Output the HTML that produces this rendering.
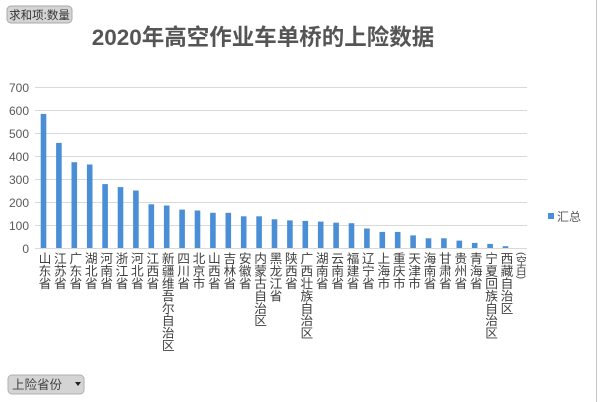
<!DOCTYPE html>
<html><head><meta charset="utf-8"><style>
body{margin:0;width:600px;height:402px;overflow:hidden;background:#fff;font-family:"Liberation Sans","Noto Sans CJK SC",sans-serif;position:relative;}
.l{position:absolute;top:252px;width:14px;writing-mode:vertical-rl;font-size:12.7px;line-height:14px;color:#404040;white-space:nowrap;letter-spacing:-0.3px;}
svg{position:absolute;left:0;top:0;}
</style></head><body>
<svg width="600" height="402" xmlns="http://www.w3.org/2000/svg" font-family="Liberation Sans, Noto Sans CJK SC, sans-serif">
<rect x="596" y="0" width="1" height="402" fill="#c8c8c8"/>
<rect x="7" y="6" width="65" height="17" rx="4" fill="#d4d4d4" stroke="#aaa"/>
<text x="39.5" y="19" font-size="11.5" fill="#333" text-anchor="middle">求和项:数量</text>
<rect x="8" y="375" width="76" height="19" rx="4" fill="#d4d4d4" stroke="#b0b0b0"/>
<text x="12" y="389" font-size="12.5" fill="#444">上险省份</text>
<path d="M75 382 l6 0 l-3 4 z" fill="#222"/>
<text x="263" y="45" font-size="22.5" font-weight="bold" fill="#555" text-anchor="middle">2020年高空作业车单桥的上险数据</text>
<g stroke="#d9d9d9" stroke-width="1">
<line x1="35" x2="527" y1="87.5" y2="87.5"/><line x1="35" x2="527" y1="110.5" y2="110.5"/>
<line x1="35" x2="527" y1="133.5" y2="133.5"/><line x1="35" x2="527" y1="156.5" y2="156.5"/>
<line x1="35" x2="527" y1="179.5" y2="179.5"/><line x1="35" x2="527" y1="202.5" y2="202.5"/>
<line x1="35" x2="527" y1="225.5" y2="225.5"/><line x1="35" x2="527" y1="248.5" y2="248.5"/>
</g>
<g font-size="12" fill="#595959" text-anchor="end">
<text x="29" y="92">700</text><text x="29" y="115">600</text><text x="29" y="138">500</text>
<text x="29" y="161">400</text><text x="29" y="184">300</text><text x="29" y="207">200</text>
<text x="29" y="230">100</text><text x="29" y="253">0</text>
</g>
<g fill="#4a8fd6">
<rect x="40.7" y="113.9" width="5.6" height="134.1"/>
<rect x="56.1" y="142.9" width="5.6" height="105.1"/>
<rect x="71.5" y="162.2" width="5.6" height="85.8"/>
<rect x="86.9" y="164.5" width="5.6" height="83.5"/>
<rect x="102.3" y="184.1" width="5.6" height="63.9"/>
<rect x="117.7" y="187.1" width="5.6" height="60.9"/>
<rect x="133.1" y="190.5" width="5.6" height="57.5"/>
<rect x="148.5" y="204.3" width="5.6" height="43.7"/>
<rect x="163.9" y="205.5" width="5.6" height="42.5"/>
<rect x="179.3" y="209.6" width="5.6" height="38.4"/>
<rect x="194.7" y="210.5" width="5.6" height="37.5"/>
<rect x="210.1" y="212.8" width="5.6" height="35.2"/>
<rect x="225.5" y="212.8" width="5.6" height="35.2"/>
<rect x="240.9" y="216.3" width="5.6" height="31.7"/>
<rect x="256.3" y="216.3" width="5.6" height="31.7"/>
<rect x="271.7" y="219.3" width="5.6" height="28.7"/>
<rect x="287.1" y="220.4" width="5.6" height="27.6"/>
<rect x="302.5" y="220.9" width="5.6" height="27.1"/>
<rect x="317.9" y="221.6" width="5.6" height="26.4"/>
<rect x="333.3" y="222.7" width="5.6" height="25.3"/>
<rect x="348.7" y="223.2" width="5.6" height="24.8"/>
<rect x="364.1" y="228.5" width="5.6" height="19.5"/>
<rect x="379.5" y="231.9" width="5.6" height="16.1"/>
<rect x="394.9" y="231.9" width="5.6" height="16.1"/>
<rect x="410.3" y="235.4" width="5.6" height="12.6"/>
<rect x="425.7" y="238.3" width="5.6" height="9.7"/>
<rect x="441.1" y="238.3" width="5.6" height="9.7"/>
<rect x="456.5" y="240.6" width="5.6" height="7.4"/>
<rect x="471.9" y="242.9" width="5.6" height="5.1"/>
<rect x="487.3" y="243.9" width="5.6" height="4.1"/>
<rect x="502.7" y="246.2" width="5.6" height="1.8"/>
</g>
<rect x="548" y="213" width="6" height="6" fill="#4a8fd6"/>
<text x="557" y="221" font-size="12" fill="#595959">汇总</text>
</svg>
<div class="l" style="left:36.5px">山东省</div>
<div class="l" style="left:51.9px">江苏省</div>
<div class="l" style="left:67.3px">广东省</div>
<div class="l" style="left:82.7px">湖北省</div>
<div class="l" style="left:98.1px">河南省</div>
<div class="l" style="left:113.5px">浙江省</div>
<div class="l" style="left:128.9px">河北省</div>
<div class="l" style="left:144.3px">江西省</div>
<div class="l" style="left:159.7px">新疆维吾尔自治区</div>
<div class="l" style="left:175.1px">四川省</div>
<div class="l" style="left:190.5px">北京市</div>
<div class="l" style="left:205.9px">山西省</div>
<div class="l" style="left:221.3px">吉林省</div>
<div class="l" style="left:236.7px">安徽省</div>
<div class="l" style="left:252.1px">内蒙古自治区</div>
<div class="l" style="left:267.5px">黑龙江省</div>
<div class="l" style="left:282.9px">陕西省</div>
<div class="l" style="left:298.3px">广西壮族自治区</div>
<div class="l" style="left:313.7px">湖南省</div>
<div class="l" style="left:329.1px">云南省</div>
<div class="l" style="left:344.5px">福建省</div>
<div class="l" style="left:359.9px">辽宁省</div>
<div class="l" style="left:375.3px">上海市</div>
<div class="l" style="left:390.7px">重庆市</div>
<div class="l" style="left:406.1px">天津市</div>
<div class="l" style="left:421.5px">海南省</div>
<div class="l" style="left:436.9px">甘肃省</div>
<div class="l" style="left:452.3px">贵州省</div>
<div class="l" style="left:467.7px">青海省</div>
<div class="l" style="left:483.1px">宁夏回族自治区</div>
<div class="l" style="left:498.5px">西藏自治区</div>
<div class="l" style="left:513.9px;font-size:10.5px">(空白)</div>
</body></html>
